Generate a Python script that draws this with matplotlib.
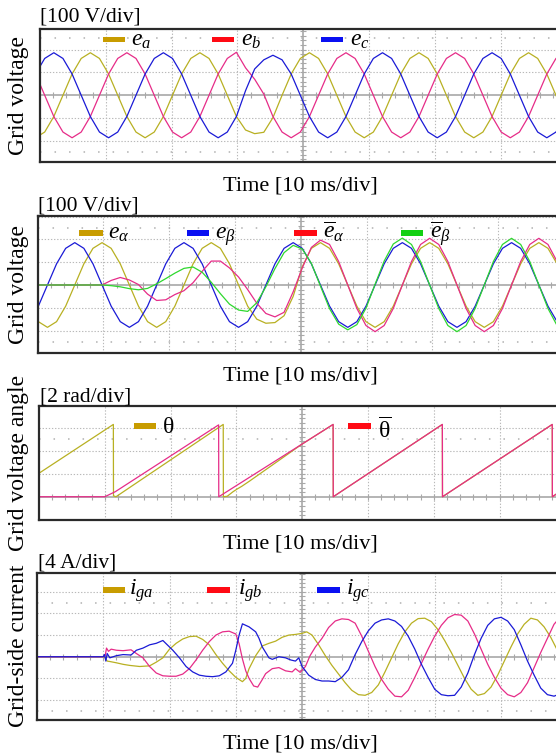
import numpy as np
import matplotlib
matplotlib.use("Agg")
import matplotlib.pyplot as plt
from matplotlib.patches import Rectangle

plt.rcParams["font.family"] = ["Liberation Serif", "DejaVu Serif"]
plt.rcParams["mathtext.fontset"] = "custom"
plt.rcParams["mathtext.rm"] = "Liberation Serif"
plt.rcParams["mathtext.it"] = "Liberation Serif:italic"
plt.rcParams["mathtext.bf"] = "Liberation Serif:bold"

W, H = 556, 756

# ---- panel 1: grid phase voltages, in div (100 V/div), sampled every DT1 div
T0_1, DT1 = -0.0675, 0.13875
e_a = [-1.86, -1.61, -0.93, 0.00, 0.93, 1.61, 1.86, 1.61, 0.93, 0.00, -0.93, -1.61,
       -1.86, -1.61, -0.93, 0.00, 0.93, 1.61, 1.86, 1.61, 0.93, 0.00, -0.93, -1.52,
       -1.68, -1.62, -0.98, 0.00, 0.93, 1.61, 1.86, 1.61, 0.93, 0.00, -0.93, -1.61,
       -1.86, -1.61, -0.93, 0.00, 0.93, 1.61, 1.86, 1.61, 0.93, 0.00, -0.93, -1.61,
       -1.86, -1.61, -0.93, 0.00, 0.93, 1.61, 1.86, 1.61, 0.93, 0.00, -0.93]
e_b = [0.93, 0.00, -0.93, -1.61, -1.86, -1.61, -0.93, 0.00, 0.93, 1.61, 1.86, 1.61,
       0.93, 0.00, -0.93, -1.61, -1.86, -1.61, -0.93, 0.00, 0.93, 1.61, 1.88, 1.20,
       0.70, 0.05, -0.93, -1.61, -1.86, -1.61, -0.93, 0.00, 0.93, 1.61, 1.86, 1.61,
       0.93, 0.00, -0.93, -1.61, -1.86, -1.61, -0.93, 0.00, 0.93, 1.61, 1.86, 1.61,
       0.93, 0.00, -0.93, -1.61, -1.86, -1.61, -0.93, 0.00, 0.93, 1.61, 1.86]
e_c = [0.93, 1.61, 1.86, 1.61, 0.93, 0.00, -0.93, -1.61, -1.86, -1.61, -0.93, 0.00,
       0.93, 1.61, 1.86, 1.61, 0.93, 0.00, -0.93, -1.61, -1.86, -1.61, -0.93, 0.20,
       1.15, 1.55, 1.75, 1.55, 0.93, 0.00, -0.93, -1.61, -1.86, -1.61, -0.93, 0.00,
       0.93, 1.61, 1.86, 1.61, 0.93, 0.00, -0.93, -1.61, -1.86, -1.61, -0.93, 0.00,
       0.93, 1.61, 1.86, 1.61, 0.93, 0.00, -0.93, -1.61, -1.86, -1.61, -0.93]

# ---- panel 2: alpha-beta voltages and their estimates
T0_2, DT2 = -0.1267, 0.1383
e_alpha = [-0.93, -1.61, -1.86, -1.61, -0.93, 0.00, 0.93, 1.61, 1.86, 1.61, 0.93, 0.00,
           -0.93, -1.61, -1.86, -1.61, -0.93, 0.00, 0.93, 1.61, 1.86, 1.61, 0.93, 0.00,
           -0.93, -1.50, -1.68, -1.65, -1.35, -0.50, 0.80, 1.61, 1.86, 1.61, 0.93, 0.00,
           -0.93, -1.61, -1.86, -1.61, -0.93, 0.00, 0.93, 1.61, 1.86, 1.61, 0.93, 0.00,
           -0.93, -1.61, -1.86, -1.61, -0.93, 0.00, 0.93, 1.61, 1.86, 1.61, 0.93]
e_beta = [-1.61, -0.93, 0.00, 0.93, 1.61, 1.86, 1.61, 0.93, 0.00, -0.93, -1.61, -1.86,
          -1.61, -0.93, 0.00, 0.93, 1.61, 1.86, 1.61, 0.93, 0.00, -0.93, -1.61, -1.86,
          -1.61, -0.93, 0.00, 0.93, 1.61, 1.86, 1.61, 0.93, 0.00, -0.93, -1.61, -1.86,
          -1.61, -0.93, 0.00, 0.93, 1.61, 1.86, 1.61, 0.93, 0.00, -0.93, -1.61, -1.86,
          -1.61, -0.93, 0.00, 0.93, 1.61, 1.86, 1.61, 0.93, 0.00, -0.93, -1.61]
ebar_alpha = [0.00, 0.00, 0.00, 0.00, 0.00, 0.00, 0.00, 0.00, 0.00, 0.20, 0.33, 0.22,
              0.02, -0.40, -0.68, -0.65, -0.42, -0.25, 0.10, 0.60, 1.05, 1.05, 0.75, 0.35,
              -0.20, -0.80, -1.25, -1.40, -1.20, -0.30, 0.75, 1.65, 1.97, 1.78, 1.03, 0.00,
              -1.03, -1.78, -2.05, -1.78, -1.03, 0.00, 1.03, 1.78, 2.05, 1.78, 1.03, 0.00,
              -1.03, -1.78, -2.05, -1.78, -1.03, 0.00, 1.03, 1.78, 2.05, 1.78, 1.03]
ebar_beta = [0.00, 0.00, 0.00, 0.00, 0.00, 0.00, 0.00, 0.00, 0.00, -0.03, -0.08, -0.16,
             -0.21, -0.15, 0.05, 0.28, 0.52, 0.73, 0.79, 0.56, 0.12, -0.38, -0.84, -1.10,
             -1.16, -0.78, -0.08, 0.72, 1.42, 1.74, 1.58, 0.95, -0.05, -1.04, -1.72, -1.97,
             -1.74, -1.02, 0.03, 1.05, 1.80, 2.06, 1.78, 1.03, 0.00, -1.03, -1.78, -2.05,
             -1.78, -1.03, 0.00, 1.03, 1.78, 2.05, 1.78, 1.03, 0.00, -1.03, -1.78]

# ---- panel 3: grid voltage angle (2 rad/div), breakpoints
theta_t = [0.0, 1.13, 1.132, 1.17, 2.80, 2.802, 2.86, 2.95, 3.02, 3.08, 3.20,
           3.99, 4.47, 4.472, 6.13, 6.132, 7.80, 7.802, 7.90]
theta_v = [1.02, 3.14, 0.04, 0.00, 3.14, 0.00, 0.02, 0.22, 0.35, 0.45, 0.68,
           2.27, 3.14, 0.00, 3.14, 0.00, 3.14, 0.00, 0.19]
thbar_t = [0.0, 1.00, 1.16, 2.73, 2.732, 4.47, 4.472, 6.13, 6.132, 7.80, 7.802, 7.90]
thbar_v = [0.00, 0.00, 0.22, 3.12, 0.00, 3.14, 0.00, 3.14, 0.00, 3.14, 0.00, 0.19]

# ---- panel 4: grid-side currents (4 A/div)
iga_t = [0.0, 1.00, 1.03, 1.06, 1.10, 1.20, 1.30, 1.40, 1.55, 1.70, 1.80, 1.90, 2.00,
         2.10, 2.20, 2.30, 2.40, 2.50, 2.60, 2.70, 2.80, 2.90, 3.00, 3.10, 3.15, 3.20,
         3.30, 3.40, 3.50, 3.60, 3.70, 3.80, 3.90, 4.00, 4.07, 4.15, 4.25, 4.35, 4.45,
         4.55, 4.65, 4.75, 4.85, 4.95, 5.05, 5.15, 5.25, 5.35, 5.45, 5.55, 5.65, 5.75,
         5.85, 5.95, 6.05, 6.15, 6.25, 6.35, 6.45, 6.55, 6.65, 6.75, 6.85, 6.95, 7.05,
         7.15, 7.25, 7.35, 7.45, 7.55, 7.65, 7.75, 7.85, 7.95]
iga_v = [0.00, 0.00, -0.05, -0.20, -0.22, -0.28, -0.35, -0.40, -0.45, -0.42, -0.25, -0.05, 0.35,
         0.62, 0.82, 0.93, 0.95, 0.80, 0.55, 0.10, -0.30, -0.65, -0.95, -1.15, -1.00, -0.55,
         0.05, 0.50, 0.62, 0.72, 0.90, 1.00, 1.03, 1.08, 1.15, 1.00, 0.55, 0.05, -0.40,
         -0.80, -1.20, -1.55, -1.75, -1.78, -1.65, -1.30, -0.70, -0.05, 0.60, 1.15, 1.55, 1.76,
         1.78, 1.62, 1.25, 0.75, 0.20, -0.40, -1.00, -1.50, -1.78, -1.70, -1.40, -0.85, -0.20,
         0.45, 1.05, 1.50, 1.78, 1.70, 1.38, 0.90, 0.30, -0.30]
igb_t = [0.0, 1.00, 1.03, 1.05, 1.08, 1.12, 1.20, 1.30, 1.42, 1.50, 1.60, 1.70, 1.80,
         1.90, 2.00, 2.10, 2.20, 2.30, 2.40, 2.50, 2.60, 2.70, 2.80, 2.90, 3.00, 3.05,
         3.10, 3.15, 3.20, 3.27, 3.33, 3.40, 3.45, 3.55, 3.65, 3.75, 3.85, 3.90, 3.97,
         4.05, 4.12, 4.20, 4.30, 4.40, 4.50, 4.60, 4.70, 4.80, 4.90, 5.00, 5.10, 5.20,
         5.30, 5.40, 5.50, 5.60, 5.70, 5.80, 5.90, 6.00, 6.10, 6.20, 6.30, 6.40, 6.50,
         6.60, 6.70, 6.80, 6.90, 7.00, 7.10, 7.20, 7.30, 7.40, 7.50, 7.60, 7.70, 7.80, 7.90]
igb_v = [0.00, 0.00, 0.05, 0.40, 0.25, 0.35, 0.30, 0.28, 0.32, 0.15, -0.05, -0.45, -0.75,
         -0.88, -0.90, -0.90, -0.80, -0.55, -0.15, 0.30, 0.70, 1.00, 1.15, 1.18, 1.05, 0.60,
         -0.10, -0.65, -1.00, -1.35, -1.40, -1.05, -0.78, -0.55, -0.50, -0.65, -0.70, -0.55, -0.72,
         -0.45, 0.05, 0.45, 0.85, 1.35, 1.65, 1.75, 1.72, 1.55, 0.95, 0.25, -0.45, -1.05,
         -1.50, -1.82, -1.85, -1.55, -0.95, -0.30, 0.35, 0.95, 1.45, 1.80, 1.95, 1.92, 1.65,
         1.05, 0.35, -0.35, -0.95, -1.45, -1.75, -1.85, -1.65, -1.20, -0.50, 0.20, 0.85, 1.50, 1.85]
igc_t = [0.0, 1.00, 1.02, 1.04, 1.06, 1.10, 1.20, 1.30, 1.42, 1.50, 1.60, 1.70, 1.80,
         1.90, 1.95, 2.05, 2.15, 2.25, 2.35, 2.45, 2.55, 2.65, 2.75, 2.85, 2.95, 3.00,
         3.05, 3.10, 3.15, 3.20, 3.30, 3.35, 3.40, 3.50, 3.55, 3.65, 3.75, 3.83, 3.90,
         3.95, 4.00, 4.10, 4.20, 4.30, 4.40, 4.50, 4.60, 4.70, 4.80, 4.90, 5.00, 5.10,
         5.20, 5.30, 5.40, 5.50, 5.60, 5.70, 5.80, 5.90, 6.00, 6.10, 6.20, 6.30, 6.40,
         6.50, 6.60, 6.70, 6.80, 6.90, 7.00, 7.10, 7.20, 7.30, 7.40, 7.50, 7.60, 7.70,
         7.80, 7.90]
igc_v = [0.00, 0.00, 0.10, -0.20, 0.15, -0.05, 0.05, 0.10, 0.08, 0.30, 0.40, 0.55, 0.62,
         0.75, 0.60, 0.30, -0.05, -0.45, -0.70, -0.85, -0.90, -0.92, -0.88, -0.70, -0.30, 0.30,
         1.00, 1.52, 1.45, 1.38, 1.15, 0.85, 0.45, -0.05, -0.12, 0.00, -0.05, -0.15, -0.20,
         -0.05, -0.45, -0.85, -1.05, -1.12, -1.12, -1.15, -0.95, -0.60, 0.10, 0.70, 1.20, 1.55,
         1.70, 1.75, 1.65, 1.40, 0.95, 0.35, -0.35, -0.95, -1.50, -1.75, -1.80, -1.78, -1.40,
         -0.75, 0.10, 0.85, 1.45, 1.75, 1.82, 1.65, 1.25, 0.55, -0.20, -0.85, -1.45, -1.75,
         -1.82, -1.70]

C_YEL, C_PNK, C_BLU, C_GRN = "#b8b022", "#e62c88", "#1a1ad6", "#2ed82e"
K_YEL, K_RED, K_BLU, K_GRN = "#c89c00", "#ff0a14", "#0a10f2", "#12d012"

fig = plt.figure(figsize=(W / 100, H / 100), dpi=100)


def fx(x):
    return x / W


def fy(y):
    return 1 - y / H


def scope_axes(left, top, bottom, div_px, ylim):
    ax = fig.add_axes([fx(left), fy(bottom), 1 - fx(left), (bottom - top) / H])
    xmax = (W - left) / div_px
    ax.set_xlim(0, xmax)
    ax.set_ylim(*ylim)
    ax.set_xticks([])
    ax.set_yticks([])
    for s in ("left", "top", "bottom"):
        ax.spines[s].set_linewidth(1.6)
        ax.spines[s].set_color("#2a2a2a")
    ax.spines["right"].set_visible(False)
    dot = dict(color="#b9b9b9", lw=0.8, ls=(0, (1.2, 1.6)), zorder=0)
    for xi in range(1, 8):
        if xi != 4:
            ax.axvline(xi, **dot)
    for yi in range(int(np.ceil(ylim[0])), int(np.floor(ylim[1])) + 1):
        if yi != 0:
            ax.axhline(yi, **dot)
    for yr in (2.5, -2.5):
        if ylim[0] < yr < ylim[1]:
            ax.axhline(yr, color="#b0b0b0", lw=1.1, ls=(0, (1, 8.5)), zorder=0)
    ax.axvline(4, color="#b4b4b4", lw=1.4, zorder=0)
    ax.axhline(0, color="#b4b4b4", lw=1.4, zorder=0)
    xt = np.arange(0.2, xmax, 0.2)
    ax.plot(xt, np.zeros_like(xt), ls="none", marker="|", ms=4, mew=0.8,
            color="#a8a8a8", zorder=0)
    yt = np.arange(np.ceil(ylim[0] / 0.2) * 0.2, ylim[1], 0.2)
    ax.plot(np.full_like(yt, 4.0), yt, ls="none", marker="_", ms=4, mew=0.8,
            color="#a8a8a8", zorder=0)
    return ax


def key(x0, x1, yc, color):
    fig.add_artist(Rectangle((fx(x0), fy(yc + 2.6)), (x1 - x0) / W, 5.2 / H,
                             transform=fig.transFigure, color=color, lw=0))


def ftext(x, y, s, size, **kw):
    fig.text(fx(x), fy(y), s, fontsize=size, va="baseline", **kw)


# panel 1
ax1 = scope_axes(40, 28.5, 162, 65.8, (-2.92, 2.92))
t1 = T0_1 + DT1 * np.arange(len(e_a))
ax1.plot(t1, e_a, color=C_YEL, lw=0.9)
ax1.plot(t1, e_b, color=C_PNK, lw=0.9)
ax1.plot(t1, e_c, color=C_BLU, lw=0.9)

# panel 2
ax2 = scope_axes(37.6, 216, 353.3, 65.8, (-3.0, 3.03))
t2 = T0_2 + DT2 * np.arange(len(e_alpha))
ax2.plot(t2, e_alpha, color=C_YEL, lw=0.9)
ax2.plot(t2, e_beta, color=C_BLU, lw=0.9)
ax2.plot(t2, ebar_alpha, color=C_PNK, lw=0.9)
ax2.plot(t2, ebar_beta, color=C_GRN, lw=0.9)

# panel 3
ax3 = scope_axes(39, 406, 520, 65.8, (-1.01, 3.94))
ax3.plot(theta_t, theta_v, color=C_YEL, lw=0.9)
ax3.plot(thbar_t, thbar_v, color=C_PNK, lw=0.9)

# panel 4
ax4 = scope_axes(36.9, 572.7, 720, 66.3, (-2.92, 3.88))
ax4.plot(iga_t, iga_v, color=C_YEL, lw=0.9)
ax4.plot(igb_t, igb_v, color=C_PNK, lw=0.9)
ax4.plot(igc_t, igc_v, color=C_BLU, lw=0.9)

# scale notes
ftext(40.5, 21.5, "[100 V/div]", 15.5)
ftext(38.0, 210.5, "[100 V/div]", 15.5)
ftext(40.5, 401, "[2 rad/div]", 15.5)
ftext(38.0, 567.5, "[4 A/div]", 15.5)

# axis captions
for yb in (190, 380, 548, 748):
    fig.text(fx(300), fy(yb), "Time [10 ms/div]", fontsize=16, ha="center", va="baseline")
for yc, s in ((95.5, "Grid voltage"), (285, "Grid voltage"),
              (463, "Grid voltage angle"), (646, "Grid-side current")):
    fig.text(fx(19), fy(yc), s, fontsize=17, rotation=90, ha="center", va="center")

# keys
key(102.7, 125, 39.7, K_YEL)
key(211.7, 234, 39.7, K_RED)
key(321, 343.3, 39.7, K_BLU)
ftext(131, 46, r"$e_a$", 17)
ftext(241, 46, r"$e_b$", 17)
ftext(349.5, 46, r"$e_c$", 17)

key(79.3, 102.7, 233, K_YEL)
key(186.7, 209.3, 233, K_BLU)
key(294, 316.7, 233, K_RED)
key(400.7, 423.3, 233, K_GRN)
ftext(108, 239, r"$e_\alpha$", 17)
ftext(215, 239, r"$e_\beta$", 17)
ftext(323, 239, r"$\overline{e}_\alpha$", 17)
ftext(430.5, 239, r"$\overline{e}_\beta$", 17)

key(134, 156, 426, K_YEL)
key(348, 370.6, 426, K_RED)
ftext(162.5, 433, "θ", 17)
ftext(378.5, 438, r"$\overline{\mathrm{\theta}}$", 17)

key(102.8, 124.8, 590, K_YEL)
key(207.4, 229.8, 590, K_RED)
key(317.4, 339.7, 590, K_BLU)
ftext(129, 595, r"$i_{ga}$", 17)
ftext(237.5, 595, r"$i_{gb}$", 17)
ftext(345.5, 595, r"$i_{gc}$", 17)

fig.savefig("out.png", dpi=100)
